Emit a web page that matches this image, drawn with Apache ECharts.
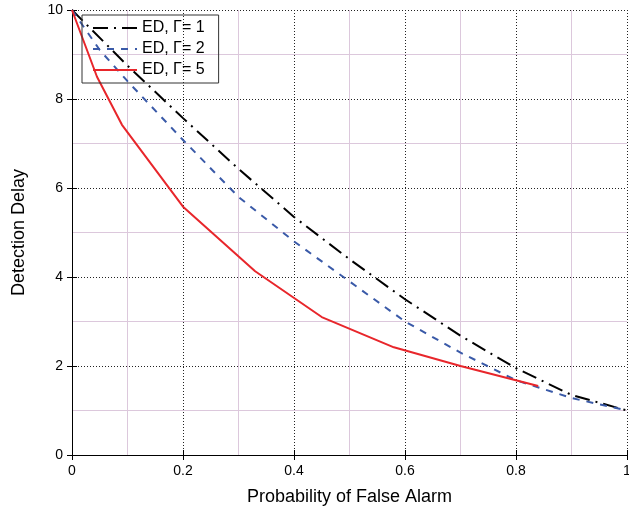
<!DOCTYPE html>
<html>
<head>
<meta charset="utf-8">
<script src="https://cdn.jsdelivr.net/npm/echarts@6/dist/echarts.min.js"></script>
<style>
	html, body { margin: 0; padding: 0; background: #fff; }
	#chart { width: 629px; height: 520px; }
</style>
</head>
<body>
<div id="chart"></div>
<script>
// values: [probability of false alarm, detection delay]
var gamma1 = [[0, 10], [0.1, 8.75], [0.2, 7.57], [0.3, 6.43], [0.4, 5.35], [0.5, 4.4],
	[0.6, 3.5], [0.7, 2.68], [0.8, 1.95], [0.9, 1.35], [1.0, 1.0]];
var gamma2 = [[0, 10], [0.05, 9.1], [0.1, 8.4], [0.2, 7.08], [0.3, 5.8], [0.4, 4.8],
	[0.5, 3.9], [0.6, 3.0], [0.7, 2.3], [0.8, 1.68], [0.9, 1.28], [1.0, 1.0]];
var gamma5 = [[0, 10], [0.045, 8.5], [0.09, 7.42], [0.2, 5.58], [0.33, 4.13], [0.45, 3.1],
	[0.58, 2.42], [0.7, 2.0], [0.84, 1.55]];
var seriesNames = ['ED, Γ= 1', 'ED, Γ= 2', 'ED, Γ= 5'];

var font = 'Liberation Sans, Arial, sans-serif';
var chart = echarts.init(document.getElementById('chart'));

var majorGrid = { show: true, lineStyle: { color: '#222', type: [1, 2], width: 1 } };
var minorGrid = { show: true, lineStyle: { color: '#dcc8dc', width: 1 } };

function mainAxis(pos, min, max, step, name, gap) {
	return {
		type: 'value', position: pos, min: min, max: max, interval: step,
		name: name, nameLocation: 'middle', nameGap: gap,
		nameTextStyle: { fontFamily: font, fontSize: 18, color: '#000' },
		axisLine: { show: true, lineStyle: { color: '#000', width: 1 } },
		axisTick: { show: true, inside: true, length: 5, lineStyle: { color: '#000' } },
		axisLabel: { fontFamily: font, fontSize: 14, color: '#000', margin: 9 },
		splitLine: majorGrid,
		minorTick: { show: false, splitNumber: 2 },
		minorSplitLine: minorGrid
	};
}
function mirrorAxis(pos, min, max, step) {
	return {
		type: 'value', position: pos, min: min, max: max, interval: step,
		axisLine: { show: true, lineStyle: { color: '#000', width: 1 } },
		axisTick: { show: true, inside: true, length: 5, lineStyle: { color: '#000' } },
		axisLabel: { show: false },
		splitLine: { show: false }
	};
}

var option = {
	animation: false,
	backgroundColor: '#fff',
	grid: { left: 72, right: 2, top: 10, bottom: 65, outerBoundsMode: 'none' },
	legend: {
		orient: 'vertical', left: 82, top: 15,
		data: seriesNames,
		itemWidth: 44, itemHeight: 14, itemGap: 5,
		padding: [5, 14, 5, 10],
		borderColor: '#333', borderWidth: 1,
		backgroundColor: 'rgba(255,255,255,0)',
		itemStyle: { opacity: 0 },
		textStyle: { fontFamily: font, fontSize: 16, color: '#000' }
	},
	xAxis: [
		mainAxis('bottom', 0, 1, 0.2, 'Probability of False Alarm', 33),
		mirrorAxis('top', 0, 1, 0.2)
	],
	yAxis: [
		mainAxis('left', 0, 10, 2, 'Detection Delay', 44),
		mirrorAxis('right', 0, 10, 2)
	],
	series: [
		{
			name: seriesNames[0], type: 'line', data: gamma1, showSymbol: false, symbol: 'none',
			lineStyle: { color: '#000', width: 2, type: [15, 6, 2, 6] }
		},
		{
			name: seriesNames[1], type: 'line', data: gamma2, showSymbol: false, symbol: 'none',
			lineStyle: { color: '#3a5aa8', width: 2, type: [7, 7] }
		},
		{
			name: seriesNames[2], type: 'line', data: gamma5, showSymbol: false, symbol: 'none',
			lineStyle: { color: '#e8262b', width: 2 }
		}
	]
};

chart.setOption(option);
</script>
</body>
</html>
